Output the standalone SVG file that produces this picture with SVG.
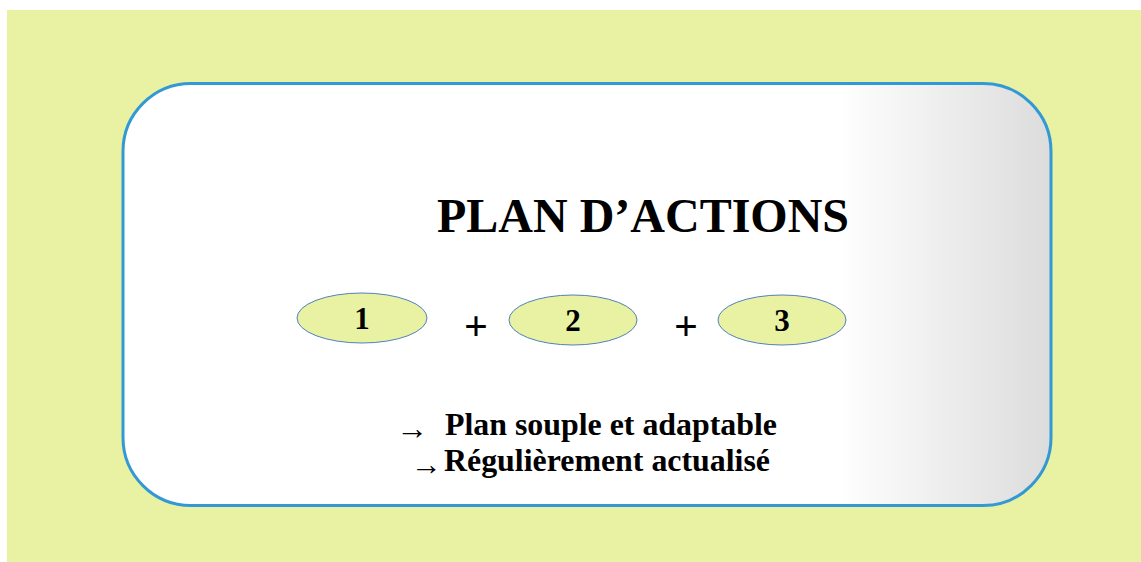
<svg xmlns="http://www.w3.org/2000/svg" width="1141" height="562" viewBox="0 0 1141 562">
<style>
.t{font-family:"Liberation Serif","Times New Roman",serif;font-weight:bold;fill:#000}
.ell{fill:#E9F2A2;stroke:#4F81BD;stroke-width:1}
</style>
<defs>
<linearGradient id="g" x1="123" y1="0" x2="1051" y2="0" gradientUnits="userSpaceOnUse">
<stop offset="0" stop-color="#FFFFFF"/>
<stop offset="0.77" stop-color="#FFFFFF"/>
<stop offset="1" stop-color="#DCDCDC"/>
</linearGradient>
</defs>
<rect x="7" y="10" width="1134" height="552" fill="#E9F2A2"/>
<g id="panel">
<rect x="123" y="83.5" width="928" height="422" rx="68" ry="68" fill="url(#g)" stroke="#3399D4" stroke-width="3"/>
</g>
<g id="title"><text class="t" x="643" y="232" font-size="48" text-anchor="middle">PLAN D’ACTIONS</text></g>
<g id="n1"><ellipse class="ell" cx="362" cy="318" rx="65" ry="25"/><text class="t" x="362" y="329" font-size="31" text-anchor="middle">1</text></g>
<g id="n2"><ellipse class="ell" cx="573" cy="320" rx="64" ry="25"/><text class="t" x="573" y="331" font-size="31" text-anchor="middle">2</text></g>
<g id="n3"><ellipse class="ell" cx="782" cy="320" rx="64" ry="25"/><text class="t" x="782" y="331" font-size="31" text-anchor="middle">3</text></g>
<g id="connectors">
<text class="t" x="476" y="340" font-size="42" text-anchor="middle">+</text>
<text class="t" x="686" y="340" font-size="42" text-anchor="middle">+</text>
</g>
<g id="notes">
<text class="t" x="396" y="439" font-size="32">→</text>
<text class="t" x="445" y="435" font-size="32" textLength="332" lengthAdjust="spacingAndGlyphs">Plan souple et adaptable</text>
<text class="t" x="411" y="475" font-size="31">→</text>
<text class="t" x="444" y="471" font-size="32" textLength="326" lengthAdjust="spacingAndGlyphs">Régulièrement actualisé</text>
</g>
</svg>
